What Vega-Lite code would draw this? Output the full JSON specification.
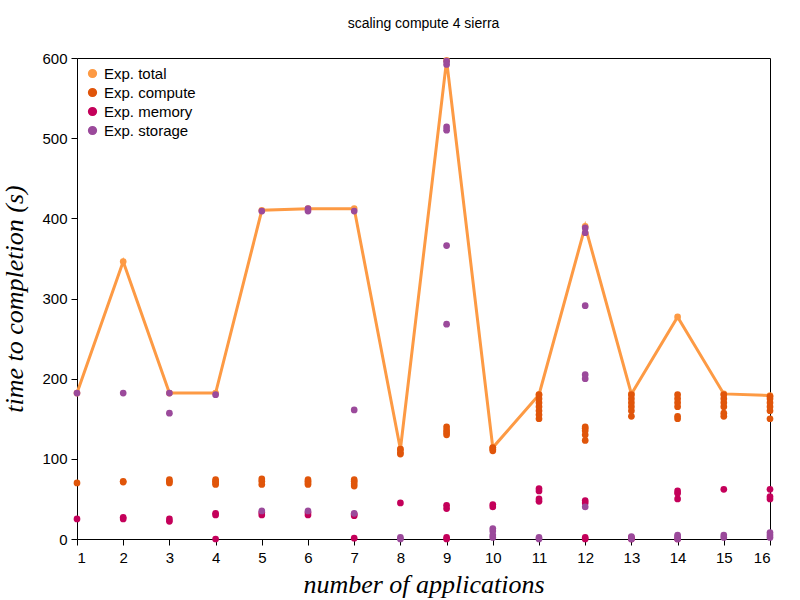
{
  "$schema": "https://vega.github.io/schema/vega-lite/v6.json",
  "autosize": {"type": "none"},
  "padding": {"left": 77, "top": 58, "right": 30, "bottom": 61},
  "width": 693,
  "height": 481,
  "title": {"text": "scaling compute 4 sierra", "font": "Liberation Sans", "fontSize": 14, "fontWeight": "normal", "offset": 20},
  "config": {"view": {"stroke": "black", "strokeWidth": 1}},
  "data": {"values": [
    {"app":1,"series":"Exp. total","value":182},{"app":2,"series":"Exp. total","value":346},{"app":3,"series":"Exp. total","value":182},{"app":4,"series":"Exp. total","value":182},
    {"app":5,"series":"Exp. total","value":410},{"app":6,"series":"Exp. total","value":412},{"app":7,"series":"Exp. total","value":412},{"app":8,"series":"Exp. total","value":112},
    {"app":9,"series":"Exp. total","value":597},{"app":10,"series":"Exp. total","value":114},{"app":11,"series":"Exp. total","value":180},{"app":12,"series":"Exp. total","value":390},
    {"app":13,"series":"Exp. total","value":181},{"app":14,"series":"Exp. total","value":277},{"app":15,"series":"Exp. total","value":181},{"app":16,"series":"Exp. total","value":179},

    {"app":1,"series":"Exp. compute","value":70},
    {"app":2,"series":"Exp. compute","value":71},{"app":2,"series":"Exp. compute","value":72},
    {"app":3,"series":"Exp. compute","value":70},{"app":3,"series":"Exp. compute","value":72},{"app":3,"series":"Exp. compute","value":74},
    {"app":4,"series":"Exp. compute","value":68},{"app":4,"series":"Exp. compute","value":70},{"app":4,"series":"Exp. compute","value":72},{"app":4,"series":"Exp. compute","value":74},
    {"app":5,"series":"Exp. compute","value":68},{"app":5,"series":"Exp. compute","value":72},{"app":5,"series":"Exp. compute","value":75},
    {"app":6,"series":"Exp. compute","value":68},{"app":6,"series":"Exp. compute","value":70},{"app":6,"series":"Exp. compute","value":72},{"app":6,"series":"Exp. compute","value":74},
    {"app":7,"series":"Exp. compute","value":66},{"app":7,"series":"Exp. compute","value":69},{"app":7,"series":"Exp. compute","value":72},{"app":7,"series":"Exp. compute","value":74},
    {"app":8,"series":"Exp. compute","value":106},{"app":8,"series":"Exp. compute","value":108},{"app":8,"series":"Exp. compute","value":112},
    {"app":9,"series":"Exp. compute","value":130},{"app":9,"series":"Exp. compute","value":133},{"app":9,"series":"Exp. compute","value":136},{"app":9,"series":"Exp. compute","value":140},
    {"app":10,"series":"Exp. compute","value":110},{"app":10,"series":"Exp. compute","value":112},{"app":10,"series":"Exp. compute","value":114},
    {"app":11,"series":"Exp. compute","value":150},{"app":11,"series":"Exp. compute","value":155},{"app":11,"series":"Exp. compute","value":160},{"app":11,"series":"Exp. compute","value":165},{"app":11,"series":"Exp. compute","value":170},{"app":11,"series":"Exp. compute","value":175},{"app":11,"series":"Exp. compute","value":180},
    {"app":12,"series":"Exp. compute","value":123},{"app":12,"series":"Exp. compute","value":130},{"app":12,"series":"Exp. compute","value":135},{"app":12,"series":"Exp. compute","value":138},{"app":12,"series":"Exp. compute","value":140},
    {"app":13,"series":"Exp. compute","value":153},{"app":13,"series":"Exp. compute","value":160},{"app":13,"series":"Exp. compute","value":165},{"app":13,"series":"Exp. compute","value":170},{"app":13,"series":"Exp. compute","value":175},{"app":13,"series":"Exp. compute","value":180},
    {"app":14,"series":"Exp. compute","value":150},{"app":14,"series":"Exp. compute","value":153},{"app":14,"series":"Exp. compute","value":165},{"app":14,"series":"Exp. compute","value":170},{"app":14,"series":"Exp. compute","value":175},{"app":14,"series":"Exp. compute","value":180},
    {"app":15,"series":"Exp. compute","value":153},{"app":15,"series":"Exp. compute","value":157},{"app":15,"series":"Exp. compute","value":165},{"app":15,"series":"Exp. compute","value":170},{"app":15,"series":"Exp. compute","value":175},{"app":15,"series":"Exp. compute","value":180},
    {"app":16,"series":"Exp. compute","value":150},{"app":16,"series":"Exp. compute","value":160},{"app":16,"series":"Exp. compute","value":165},{"app":16,"series":"Exp. compute","value":170},{"app":16,"series":"Exp. compute","value":175},{"app":16,"series":"Exp. compute","value":178},

    {"app":1,"series":"Exp. memory","value":25},
    {"app":2,"series":"Exp. memory","value":25},{"app":2,"series":"Exp. memory","value":27},
    {"app":3,"series":"Exp. memory","value":22},{"app":3,"series":"Exp. memory","value":25},
    {"app":4,"series":"Exp. memory","value":0},{"app":4,"series":"Exp. memory","value":30},{"app":4,"series":"Exp. memory","value":32},
    {"app":5,"series":"Exp. memory","value":30},{"app":5,"series":"Exp. memory","value":33},
    {"app":6,"series":"Exp. memory","value":30},{"app":6,"series":"Exp. memory","value":33},
    {"app":7,"series":"Exp. memory","value":1},{"app":7,"series":"Exp. memory","value":29},{"app":7,"series":"Exp. memory","value":31},
    {"app":8,"series":"Exp. memory","value":45},
    {"app":9,"series":"Exp. memory","value":0},{"app":9,"series":"Exp. memory","value":2},{"app":9,"series":"Exp. memory","value":38},{"app":9,"series":"Exp. memory","value":42},
    {"app":10,"series":"Exp. memory","value":40},{"app":10,"series":"Exp. memory","value":43},
    {"app":11,"series":"Exp. memory","value":47},{"app":11,"series":"Exp. memory","value":50},{"app":11,"series":"Exp. memory","value":60},{"app":11,"series":"Exp. memory","value":63},
    {"app":12,"series":"Exp. memory","value":0},{"app":12,"series":"Exp. memory","value":2},{"app":12,"series":"Exp. memory","value":45},{"app":12,"series":"Exp. memory","value":48},
    {"app":13,"series":"Exp. memory","value":0},{"app":13,"series":"Exp. memory","value":2},
    {"app":14,"series":"Exp. memory","value":0},{"app":14,"series":"Exp. memory","value":50},{"app":14,"series":"Exp. memory","value":57},{"app":14,"series":"Exp. memory","value":60},
    {"app":15,"series":"Exp. memory","value":62},
    {"app":16,"series":"Exp. memory","value":50},{"app":16,"series":"Exp. memory","value":53},{"app":16,"series":"Exp. memory","value":62},

    {"app":1,"series":"Exp. storage","value":182},
    {"app":2,"series":"Exp. storage","value":182},
    {"app":3,"series":"Exp. storage","value":157},{"app":3,"series":"Exp. storage","value":182},
    {"app":4,"series":"Exp. storage","value":180},
    {"app":5,"series":"Exp. storage","value":35},{"app":5,"series":"Exp. storage","value":409},
    {"app":6,"series":"Exp. storage","value":35},{"app":6,"series":"Exp. storage","value":409},{"app":6,"series":"Exp. storage","value":412},
    {"app":7,"series":"Exp. storage","value":32},{"app":7,"series":"Exp. storage","value":161},{"app":7,"series":"Exp. storage","value":409},
    {"app":8,"series":"Exp. storage","value":0},{"app":8,"series":"Exp. storage","value":2},
    {"app":9,"series":"Exp. storage","value":268},{"app":9,"series":"Exp. storage","value":366},{"app":9,"series":"Exp. storage","value":510},{"app":9,"series":"Exp. storage","value":514},{"app":9,"series":"Exp. storage","value":592},{"app":9,"series":"Exp. storage","value":596},
    {"app":10,"series":"Exp. storage","value":2},{"app":10,"series":"Exp. storage","value":5},{"app":10,"series":"Exp. storage","value":10},{"app":10,"series":"Exp. storage","value":13},
    {"app":11,"series":"Exp. storage","value":0},{"app":11,"series":"Exp. storage","value":2},
    {"app":12,"series":"Exp. storage","value":40},{"app":12,"series":"Exp. storage","value":200},{"app":12,"series":"Exp. storage","value":205},{"app":12,"series":"Exp. storage","value":291},{"app":12,"series":"Exp. storage","value":382},{"app":12,"series":"Exp. storage","value":388},
    {"app":13,"series":"Exp. storage","value":0},{"app":13,"series":"Exp. storage","value":3},
    {"app":14,"series":"Exp. storage","value":0},{"app":14,"series":"Exp. storage","value":3},{"app":14,"series":"Exp. storage","value":5},
    {"app":15,"series":"Exp. storage","value":2},{"app":15,"series":"Exp. storage","value":5},
    {"app":16,"series":"Exp. storage","value":2},{"app":16,"series":"Exp. storage","value":5},{"app":16,"series":"Exp. storage","value":8}
  ]},
  "encoding": {
    "x": {"field": "app", "type": "quantitative", "scale": {"domain": [1, 16], "nice": false},
      "axis": {"title": "number of applications", "values": [1,2,3,4,5,6,7,8,9,10,11,12,13,14,15,16], "grid": false, "domain": false,
        "tickColor": "black", "tickSize": 6, "labelColor": "black", "labelFont": "Liberation Sans", "labelFontSize": 15, "labelPadding": 5,
        "titleFont": "Liberation Serif", "titleFontStyle": "italic", "titleFontWeight": "normal", "titleFontSize": 26, "titleColor": "black", "titlePadding": 6}},
    "y": {"field": "value", "type": "quantitative", "scale": {"domain": [0, 600], "nice": false},
      "axis": {"title": "time to completion (s)", "values": [0,100,200,300,400,500,600], "grid": false, "domain": false,
        "tickColor": "black", "tickSize": 6, "labelColor": "black", "labelFont": "Liberation Sans", "labelFontSize": 15, "labelPadding": 4,
        "titleFont": "Liberation Serif", "titleFontStyle": "italic", "titleFontWeight": "normal", "titleFontSize": 26, "titleColor": "black", "titlePadding": 14}},
    "color": {"field": "series", "type": "nominal",
      "scale": {"domain": ["Exp. total", "Exp. compute", "Exp. memory", "Exp. storage"], "range": ["#fd9a44", "#e0550a", "#c4005a", "#9b4a9b"]},
      "legend": {"title": null, "orient": "top-left", "offset": 8, "labelFont": "Liberation Sans", "labelFontSize": 15, "labelColor": "black", "symbolType": "circle", "symbolSize": 60, "rowPadding": 3, "symbolOpacity": 1}}
  },
  "layer": [
    {"transform": [{"filter": "datum.series == 'Exp. total'"}], "mark": {"type": "line", "strokeWidth": 3}},
    {"mark": {"type": "circle", "size": 45, "opacity": 1}}
  ]
}
